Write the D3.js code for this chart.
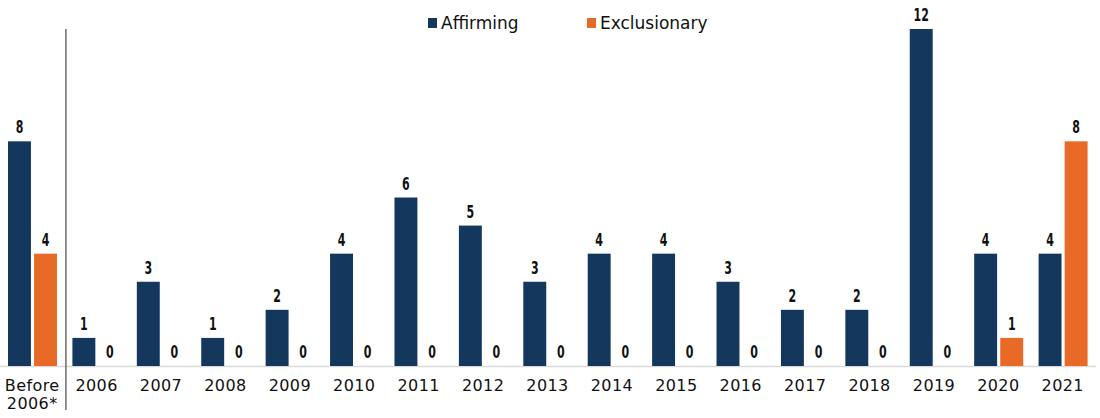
<!DOCTYPE html>
<html>
<head>
<meta charset="utf-8">
<script src="https://cdn.jsdelivr.net/npm/d3@7"></script>
<style>
  body { margin: 0; background: #fff; }
  svg { display: block; }
</style>
</head>
<body>
<svg id="chart" width="1100" height="418"></svg>
<script>
/* ---------- data ---------- */
const categories = ["Before\n2006*", "2006", "2007", "2008", "2009", "2010", "2011", "2012",
  "2013", "2014", "2015", "2016", "2017", "2018", "2019", "2020", "2021"];
const affirming = [8, 1, 3, 1, 2, 4, 6, 5, 3, 4, 4, 3, 2, 2, 12, 4, 4];
const exclusionary = [4, 0, 0, 0, 0, 0, 0, 0, 0, 0, 0, 0, 0, 0, 0, 1, 8];
const seriesNames = ["Affirming", "Exclusionary"];
const colors = ["#14375e", "#e96a27"];

/* ---------- scales ---------- */
const svg = d3.select("#chart");
const baseY = 366;
const x = d3.scaleBand().domain(categories).range([0, 1095]).paddingInner(0).paddingOuter(0);
const xs = d3.scaleBand().domain(seriesNames).range([8, 57]).paddingInner(0.12);
const y = d3.scaleLinear().domain([0, 12]).range([baseY, 29]);
const color = d3.scaleOrdinal().domain(seriesNames).range(colors);

const rows = categories.map((c, i) => ({
  cat: c,
  vals: [
    { key: "Affirming", v: affirming[i] },
    { key: "Exclusionary", v: exclusionary[i] },
  ],
}));

/* baseline */
svg.append("line")
  .attr("x1", 0).attr("x2", 1096)
  .attr("y1", baseY + 0.5).attr("y2", baseY + 0.5)
  .attr("stroke", "#d9d9d9").attr("stroke-width", 1.5);

/* separator after "Before 2006" */
svg.append("line")
  .attr("x1", x("2006") + 1.5).attr("x2", x("2006") + 1.5)
  .attr("y1", 29).attr("y2", 410)
  .attr("stroke", "#555").attr("stroke-width", 1.3);

/* ---------- bars ---------- */
const groups = svg.selectAll("g.cat")
  .data(rows)
  .join("g")
  .attr("class", "cat")
  .attr("transform", d => `translate(${x(d.cat)},0)`);

groups.selectAll("rect")
  .data(d => d.vals.filter(v => v.v > 0))
  .join("rect")
  .attr("x", d => xs(d.key))
  .attr("width", xs.bandwidth())
  .attr("y", d => y(d.v))
  .attr("height", d => baseY - y(d.v))
  .attr("fill", d => color(d.key));

// condensed value labels (squeezed horizontally like the original)
groups.selectAll("text.val")
  .data(d => d.vals)
  .join("text")
  .attr("class", "val")
  .attr("transform", d => `translate(${xs(d.key) + xs.bandwidth() / 2},${y(d.v) - 8}) scale(0.72,1)`)
  .attr("text-anchor", "middle")
  .style("font-family", "'DejaVu Sans Condensed', 'DejaVu Sans', sans-serif")
  .style("font-weight", "bold")
  .style("font-size", "17px")
  .attr("fill", "#111")
  .text(d => d.v);

/* ---------- x labels ---------- */
groups.append("text")
  .attr("text-anchor", "middle")
  .attr("x", x.bandwidth() / 2)
  .attr("y", 391)
  .style("font-family", "'DejaVu Sans', sans-serif")
  .style("font-size", "16px")
  .style("letter-spacing", "0.4px")
  .attr("fill", "#111")
  .selectAll("tspan")
  .data(d => d.cat.split("\n"))
  .join("tspan")
  .attr("x", x.bandwidth() / 2)
  .attr("dy", (d, i) => (i === 0 ? 0 : 18))
  .text(d => d);

/* ---------- legend ---------- */
const legendX = [428, 587];
const legend = svg.selectAll("g.leg")
  .data(seriesNames)
  .join("g")
  .attr("class", "leg")
  .attr("transform", (d, i) => `translate(${legendX[i]},18)`);
legend.append("rect")
  .attr("width", 9).attr("height", 10)
  .attr("fill", d => color(d));
legend.append("text")
  .attr("x", 13).attr("y", 11)
  .style("font-family", "'DejaVu Sans', sans-serif")
  .style("font-size", "17px")
  .attr("fill", "#111")
  .text(d => d);
</script>
</body>
</html>
